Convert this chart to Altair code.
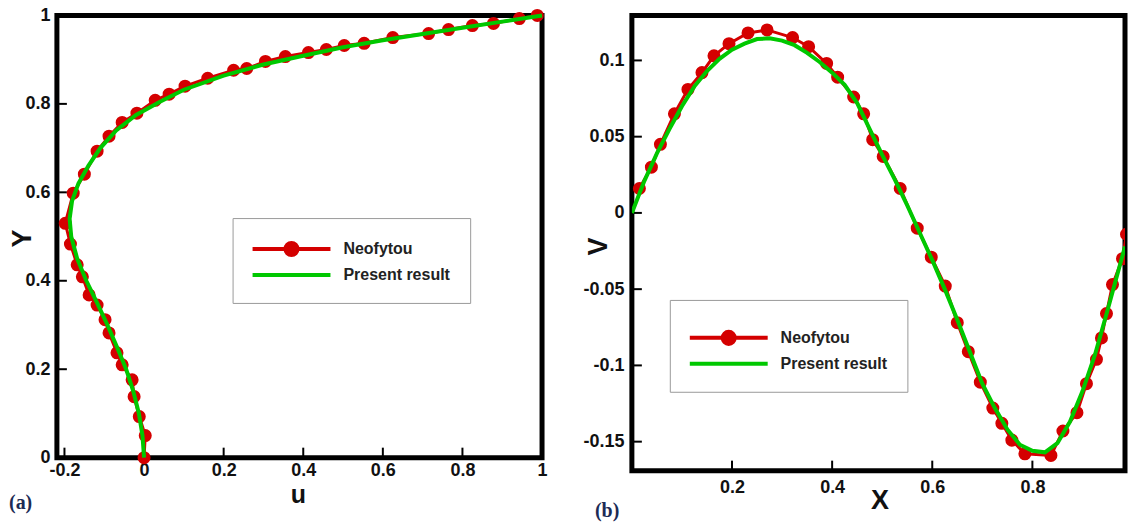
import altair as alt
import pandas as pd

SERIES = ["Neofytou", "Present result"]
RED = "#d40000"
GREEN = "#00c800"
FONT = "Liberation Sans"

# ---------------- panel (a): u along vertical centre line ----------------
a_ref_u = [0.0, 0.003, -0.012, -0.025, -0.03, -0.055, -0.068, -0.088, -0.098, -0.118,
           -0.138, -0.155, -0.168, -0.185, -0.198, -0.178, -0.15, -0.118, -0.088, -0.055,
           -0.018, 0.028, 0.063, 0.103, 0.16, 0.225, 0.258, 0.305, 0.355, 0.413,
           0.458, 0.503, 0.553, 0.625, 0.715, 0.765, 0.825, 0.878, 0.943, 0.988]
a_ref_y = [0.0, 0.05, 0.093, 0.138, 0.176, 0.21, 0.237, 0.282, 0.312, 0.345,
           0.368, 0.409, 0.436, 0.483, 0.53, 0.598, 0.641, 0.693, 0.727, 0.758,
           0.779, 0.808, 0.822, 0.84, 0.858, 0.876, 0.88, 0.896, 0.907, 0.916,
           0.923, 0.932, 0.937, 0.95, 0.959, 0.968, 0.977, 0.982, 0.993, 1.0]
a_cur_u = [0.0, -0.004, -0.013, -0.027, -0.045, -0.068, -0.092, -0.118, -0.145, -0.168,
           -0.183, -0.187, -0.181, -0.165, -0.14, -0.11, -0.07, -0.02, 0.04, 0.1,
           0.2, 0.3, 0.4, 0.5, 0.6, 0.7, 0.8, 0.9, 1.0]
a_cur_y = [0.0, 0.05, 0.1, 0.15, 0.2, 0.25, 0.3, 0.35, 0.4, 0.45,
           0.5, 0.54, 0.58, 0.62, 0.66, 0.7, 0.74, 0.775, 0.805, 0.832,
           0.864, 0.889, 0.909, 0.928, 0.944, 0.958, 0.972, 0.986, 1.0]
a_xticks = [-0.2, 0, 0.2, 0.4, 0.6, 0.8, 1]
a_yticks = [0, 0.2, 0.4, 0.6, 0.8, 1]

# ---------------- panel (b): v along horizontal centre line ----------------
b_ref_x = [0.015, 0.039, 0.057, 0.085, 0.112, 0.14, 0.164, 0.194, 0.232, 0.27,
           0.321, 0.353, 0.389, 0.411, 0.443, 0.463, 0.481, 0.502, 0.536, 0.57,
           0.598, 0.626, 0.65, 0.672, 0.696, 0.721, 0.739, 0.759, 0.785, 0.837,
           0.861, 0.889, 0.908, 0.928, 0.938, 0.948, 0.96, 0.98, 0.988]
b_ref_v = [0.016, 0.030, 0.045, 0.065, 0.081, 0.092, 0.103, 0.111, 0.118, 0.120,
           0.115, 0.109, 0.098, 0.089, 0.076, 0.065, 0.048, 0.037, 0.016, -0.010,
           -0.029, -0.048, -0.072, -0.091, -0.111, -0.128, -0.138, -0.149, -0.158, -0.159,
           -0.143, -0.131, -0.112, -0.096, -0.082, -0.066, -0.047, -0.030, -0.014]
b_cur_x = [0, 0.025, 0.05, 0.075, 0.1, 0.125, 0.15, 0.175, 0.2, 0.225,
           0.25, 0.275, 0.3, 0.325, 0.35, 0.375, 0.4, 0.425, 0.45, 0.475,
           0.5, 0.525, 0.55, 0.575, 0.6, 0.625, 0.65, 0.675, 0.7, 0.725,
           0.75, 0.775, 0.8, 0.825, 0.85, 0.875, 0.9, 0.925, 0.95, 0.975, 0.985]
b_cur_v = [0.0, 0.021, 0.039, 0.055, 0.07, 0.083, 0.093, 0.101, 0.107, 0.111,
           0.114, 0.1145, 0.113, 0.110, 0.105, 0.099, 0.092, 0.084, 0.072, 0.055,
           0.038, 0.022, 0.005, -0.013, -0.031, -0.050, -0.070, -0.091, -0.112, -0.128,
           -0.142, -0.152, -0.156, -0.157, -0.151, -0.137, -0.117, -0.093, -0.064, -0.034, -0.022]
b_xticks = [0.2, 0.4, 0.6, 0.8]
b_yticks = [-0.15, -0.1, -0.05, 0, 0.05, 0.1]

RED_SYM = "M-1.22,0L7.45,0M2.44,0A0.67,0.67,0,1,1,3.78,0A0.67,0.67,0,1,1,2.44,0Z"
GREEN_SYM = "M-1.22,0L7.45,0"


def panel(ref_x, ref_y, cur_x, cur_y, xticks, yticks, xdom, ydom, W, H,
          xtitle, ytitle, xt_pos, yt_pos, xt_size, xlabpad, ylabpad,
          leg_x, leg_y, leg_title, tag, tag_pos, clip):
    ref = pd.DataFrame({"x": ref_x, "y": ref_y, "s": SERIES[0], "o": range(len(ref_x))})
    cur = pd.DataFrame({"x": cur_x, "y": cur_y, "s": SERIES[1], "o": range(len(cur_x))})

    xenc = alt.X("x:Q", scale=alt.Scale(domain=xdom, nice=False, zero=False),
                 axis=alt.Axis(values=xticks, title=xtitle, ticks=False, tickSize=0, domain=False,
                               grid=False, labelExpr="'' + datum.value", labelFlush=False,
                               labelOverlap=False, labelPadding=xlabpad,
                               titleX=xt_pos[0], titleY=xt_pos[1], titleAngle=0,
                               titleFontSize=xt_size,
                               titleAlign="center", titleBaseline="middle"))
    yenc = alt.Y("y:Q", scale=alt.Scale(domain=ydom, nice=False, zero=False),
                 axis=alt.Axis(values=yticks, title=ytitle, ticks=False, tickSize=0, domain=False,
                               grid=False, labelExpr="'' + datum.value", labelFlush=False,
                               labelOverlap=False, labelPadding=ylabpad,
                               titleX=yt_pos[0], titleY=yt_pos[1], titleAngle=270,
                               titleAlign="center", titleBaseline="middle"))

    legend_kwargs = dict(
        orient="none", legendX=leg_x, legendY=leg_y,
        fillColor="white", strokeColor="#9a9a9a", padding=20,
        labelFont=FONT, labelFontWeight="bold", labelFontSize=16, labelColor="#222222",
        labelOffset=69, rowPadding=0, symbolSize=324, symbolStrokeWidth=4,
        symbolType={"expr": f"datum.value === 'Neofytou' ? '{RED_SYM}' : '{GREEN_SYM}'"},
        symbolFillColor={"expr": f"datum.value === 'Neofytou' ? '{RED}' : 'transparent'"},
        symbolOpacity=1,
    )
    if leg_title is None:
        legend_kwargs["title"] = None
    else:
        legend_kwargs.update(title=leg_title, titleFontSize=6, titlePadding=1)
    color = alt.Color("s:N", scale=alt.Scale(domain=SERIES, range=[RED, GREEN]),
                      legend=alt.Legend(**legend_kwargs))

    ref_line = alt.Chart(ref).mark_line(strokeWidth=3, clip=clip).encode(
        x=xenc, y=yenc, order="o:Q", color=color)
    ref_pts = alt.Chart(ref).mark_circle(color=RED, size=170, opacity=1, clip=clip).encode(
        x=xenc, y=yenc)
    cur_line = alt.Chart(cur).mark_line(strokeWidth=4, clip=clip).encode(
        x=xenc, y=yenc, order="o:Q", color=color)

    xt = alt.Chart(pd.DataFrame({"x": xticks})).mark_rule(color="black", strokeWidth=2).encode(
        x=xenc, y=alt.value(H), y2=alt.value(H - 10))
    yt = alt.Chart(pd.DataFrame({"y": yticks})).mark_rule(color="black", strokeWidth=2).encode(
        y=yenc, x=alt.value(0), x2=alt.value(10))
    lab = alt.Chart(pd.DataFrame({"t": [tag]})).mark_text(
        font="Liberation Serif", fontWeight="bold", fontSize=20, color="#1c2b55",
        align="left", baseline="middle").encode(
        text="t:N", x=alt.value(tag_pos[0]), y=alt.value(tag_pos[1]))

    return alt.layer(xt, yt, ref_line, ref_pts, cur_line, lab).properties(width=W, height=H)


left = panel(a_ref_u, a_ref_y, a_cur_u, a_cur_y, a_xticks, a_yticks,
             [-0.219, 1.0], [0, 1], 486, 443, "u", "Y",
             (241.5, 37), (-34, 223), 25, 4, 7,
             176, 203, None, "(a)", (-48, 488), False)
right = panel(b_ref_x, b_ref_v, b_cur_x, b_cur_v, b_xticks, b_yticks,
              [0.0, 0.985], [-0.169, 0.1295], 494, 456, "X", "V",
              (248, 30), (-33, 231), 27, 8, 8,
              38, 285, " ", "(b)", (-37, 496), True)

chart = alt.hconcat(left, right, spacing=90, bounds="flush").resolve_scale(
    color="independent").resolve_legend(color="independent").properties(
    padding={"left": 6, "top": 3, "right": 0, "bottom": 0},
    background="white",
).configure_view(stroke="black", strokeWidth=5).configure_axis(
    labelFont=FONT, labelFontWeight="bold", labelFontSize=18, labelColor="#111111",
    titleFont=FONT, titleFontWeight="bold", titleFontSize=27, titleColor="#111111",
)

chart.save("out.html", embed_options={"renderer": "svg", "actions": False})
